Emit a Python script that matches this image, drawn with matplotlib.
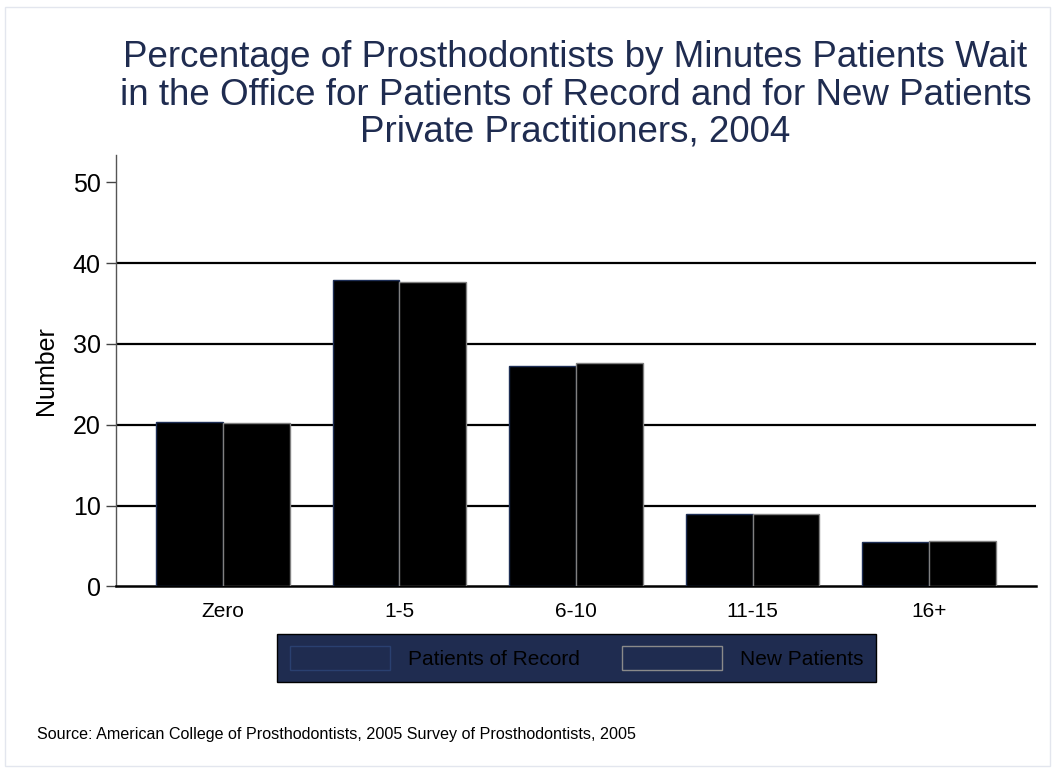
import matplotlib
matplotlib.use("Agg")
import matplotlib.pyplot as plt
from matplotlib.patches import Patch, Rectangle
import numpy as np

categories = ["Zero", "1-5", "6-10", "11-15", "16+"]
patients_of_record = [20.4, 37.9, 27.3, 9.0, 5.5]
new_patients = [20.2, 37.7, 27.6, 8.9, 5.6]
yticks = [0, 10, 20, 30, 40, 50]

title_lines = ["Percentage of Prosthodontists by Minutes Patients Wait",
               "in the Office for Patients of Record and for New Patients",
               "Private Practitioners, 2004"]
source = "Source: American College of Prosthodontists, 2005 Survey of Prosthodontists, 2005"

NAVY = "#1f2c50"
plt.rcParams["font.family"] = ["Liberation Sans", "DejaVu Sans"]

W, H = 1053, 769
fig = plt.figure(figsize=(W / 100, H / 100), dpi=100)
fig.patch.set_facecolor("white")

ax = fig.add_axes([116 / W, 1 - 586.3 / H, 920 / W, (586.3 - 155) / H])
x = np.arange(len(categories))
bw = 0.377
ax.bar(x - bw / 2, patients_of_record, width=bw, color="black",
       edgecolor="#1e2e55", linewidth=1, zorder=3)
ax.bar(x + bw / 2, new_patients, width=bw, color="black",
       edgecolor="#808080", linewidth=1, zorder=3)

ax.set_xlim(-0.606, 4.606)
ax.set_ylim(0, 53.4)
ax.set_yticks(yticks)
ax.set_xticks(x)
ax.set_xticklabels(categories, fontsize=15)
ax.tick_params(axis="x", length=0, pad=11)
ax.tick_params(axis="y", length=7, width=1, color="#444444", labelsize=18, pad=4)

ax.yaxis.grid(True, color="black", linewidth=1.6, zorder=1)
ax.set_axisbelow(True)
for i, gl in enumerate(ax.get_ygridlines()):
    if yticks[i] in (0, 50):
        gl.set_visible(False)

for s in ("top", "right"):
    ax.spines[s].set_visible(False)
ax.spines["left"].set_color("#555555")
ax.spines["left"].set_linewidth(1)
ax.spines["bottom"].set_color("black")
ax.spines["bottom"].set_linewidth(1.8)

ax.set_ylabel("Number", fontsize=18)
ax.yaxis.set_label_coords(-0.063, 0.5)

for line, base in zip(title_lines, [67, 105, 142]):
    fig.text(575.5 / W, 1 - base / H, line, ha="center", va="baseline",
             fontsize=26.5, color=NAVY)

handles = [Patch(facecolor=NAVY, edgecolor="#2a4070", linewidth=1, label="Patients of Record"),
           Patch(facecolor=NAVY, edgecolor="#8a8a8a", linewidth=1, label="New Patients")]
leg = fig.legend(handles=handles, loc="center", bbox_to_anchor=(576.5 / W, 1 - 658 / H),
                 ncol=2, fontsize=15, frameon=True, fancybox=False,
                 handlelength=4.8, handleheight=1.35, handletextpad=0.87,
                 columnspacing=2.0, borderpad=0.6)
frame = leg.get_frame()
frame.set_facecolor(NAVY)
frame.set_edgecolor("black")
frame.set_alpha(1)
frame.set_linewidth(1)

fig.text(37 / W, 1 - 735 / H, source, ha="left", va="center", fontsize=11.6, color="black")

fig.patches.append(Rectangle((5 / W, 3 / H), (W - 8) / W, (H - 10) / H,
                             transform=fig.transFigure, fill=False,
                             edgecolor="#e3e6ee", linewidth=1))

fig.savefig("out.png", dpi=100)
